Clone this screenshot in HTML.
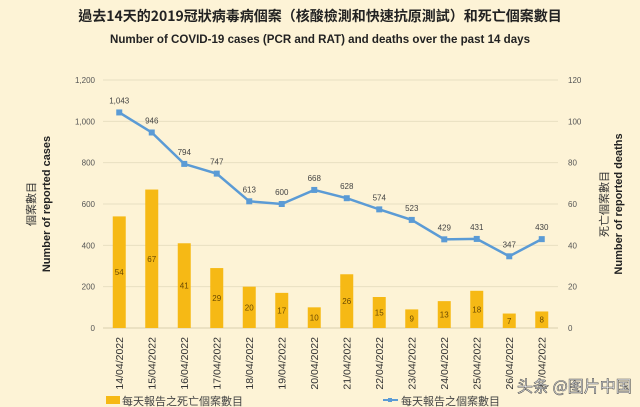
<!DOCTYPE html>
<html><head><meta charset="utf-8"><style>
body{margin:0;background:#fdf3d6;}
svg{display:block;font-family:"Liberation Sans","Noto Sans CJK TC",sans-serif;}
</style></head><body>
<svg id="chart" width="640" height="407">
<rect width="640" height="407" fill="#fdf3d6"/>
<text x="320" y="21" text-anchor="middle" font-size="14" font-weight="bold" fill="#222" font-family="'Noto Sans CJK TC',sans-serif">過去14天的2019冠狀病毒病個案（核酸檢測和快速抗原測試）和死亡個案數目</text>
<text x="320" y="43" text-anchor="middle" font-size="12" font-weight="bold" fill="#222" textLength="420" lengthAdjust="spacingAndGlyphs">Number of COVID-19 cases (PCR and RAT) and deaths over the past 14 days</text>
<g id="grid"></g><g id="bars"></g><g id="line"></g><g id="labels"></g>
<text transform="translate(50,204) rotate(-90)" text-anchor="middle" font-size="11" font-weight="bold" fill="#222">Number of reported cases</text>
<text transform="translate(35,204) rotate(-90)" text-anchor="middle" font-size="11" fill="#333" font-family="'Noto Sans CJK TC',sans-serif">個案數目</text>
<text transform="translate(622,204) rotate(-90)" text-anchor="middle" font-size="11" font-weight="bold" fill="#222">Number of reported deaths</text>
<text transform="translate(608,204) rotate(-90)" text-anchor="middle" font-size="11" fill="#333" font-family="'Noto Sans CJK TC',sans-serif">死亡個案數目</text>
<rect x="106" y="396" width="14" height="8" fill="#f6b915"/>
<text x="122" y="405" font-size="11" fill="#444" font-family="'Noto Sans CJK TC',sans-serif">每天報告之死亡個案數目</text>
<line x1="383" y1="400" x2="398" y2="400" stroke="#5b9bd5" stroke-width="2"/>
<rect x="388" y="398" width="4" height="4" fill="#5b9bd5"/>
<text x="401" y="405" font-size="11" fill="#444" font-family="'Noto Sans CJK TC',sans-serif">每天報告之個案數目</text>
<text x="517" y="392" font-size="16" fill="#fff" stroke="#555" stroke-width="0.6" font-family="'Noto Sans CJK SC',sans-serif">头条 @图片中国</text>
</svg>
<script>
const categories=["14/04/2022","15/04/2022","16/04/2022","17/04/2022","18/04/2022","19/04/2022","20/04/2022","21/04/2022","22/04/2022","23/04/2022","24/04/2022","25/04/2022","26/04/2022","27/04/2022"];
const cases=[1043,946,794,747,613,600,668,628,574,523,429,431,347,430];
const deaths=[54,67,41,29,20,17,10,26,15,9,13,18,7,8];
const leftTicks=[0,200,400,600,800,1000,1200];
const rightTicks=[0,20,40,60,80,100,120];
const NS="http://www.w3.org/2000/svg";
const x0=103,x1=558,yTop=80,yBot=328;
const step=(x1-x0)/categories.length;
const xc=i=>x0+step*(i+0.5);
const yL=v=>yBot-(v/1200)*(yBot-yTop);
const yR=v=>yBot-(v/120)*(yBot-yTop);
function mk(tag,attrs,parent,txt){const e=document.createElementNS(NS,tag);for(const k in attrs)e.setAttribute(k,attrs[k]);if(txt!==undefined)e.textContent=txt;document.getElementById(parent).appendChild(e);return e;}
leftTicks.forEach((t,i)=>{
 const g=mk('line',{x1:x0,x2:x1,y1:yL(t),y2:yL(t),stroke:t===0?'#d9cfae':'#e8dfc2','stroke-width':1},'grid');
 
 
 const a=mk('text',{x:95,y:yL(t)+3,'text-anchor':'end','font-size':8,fill:'#555'},'grid',t.toLocaleString('en-US'));
 
 
 const b=mk('text',{x:568,y:yR(rightTicks[i])+3,'font-size':8,fill:'#555'},'grid',String(rightTicks[i]));
 
 
});
const bw=13;
deaths.forEach((d,i)=>{
 const r=mk('rect',{x:xc(i)-bw/2,y:yR(d),width:bw,height:yBot-yR(d),fill:'#f6b915'},'bars');
 
 
 const t=mk('text',{x:xc(i),y:(yR(d)+yBot)/2+3,'text-anchor':'middle','font-size':8,fill:'#6b4a00'},'labels',String(d));
 
 
 const c=mk('text',{transform:`translate(${xc(i)+3.5},${337}) rotate(-90)`,'text-anchor':'end','font-size':10.5,fill:'#333'},'labels',categories[i]);
 
 
});
const pl=mk('polyline',{points:cases.map((v,i)=>xc(i)+','+yL(v)).join(' '),fill:'none',stroke:'#5b9bd5','stroke-width':2.5},'line');


cases.forEach((v,i)=>{
 const m=mk('rect',{x:xc(i)-3,y:yL(v)-3,width:6,height:6,fill:'#5b9bd5'},'line');
 
 
 const t=mk('text',{x:xc(i),y:yL(v)-9,'text-anchor':'middle','font-size':8,fill:'#444'},'labels',v.toLocaleString('en-US'));
 
 
});
</script>
</body></html>
